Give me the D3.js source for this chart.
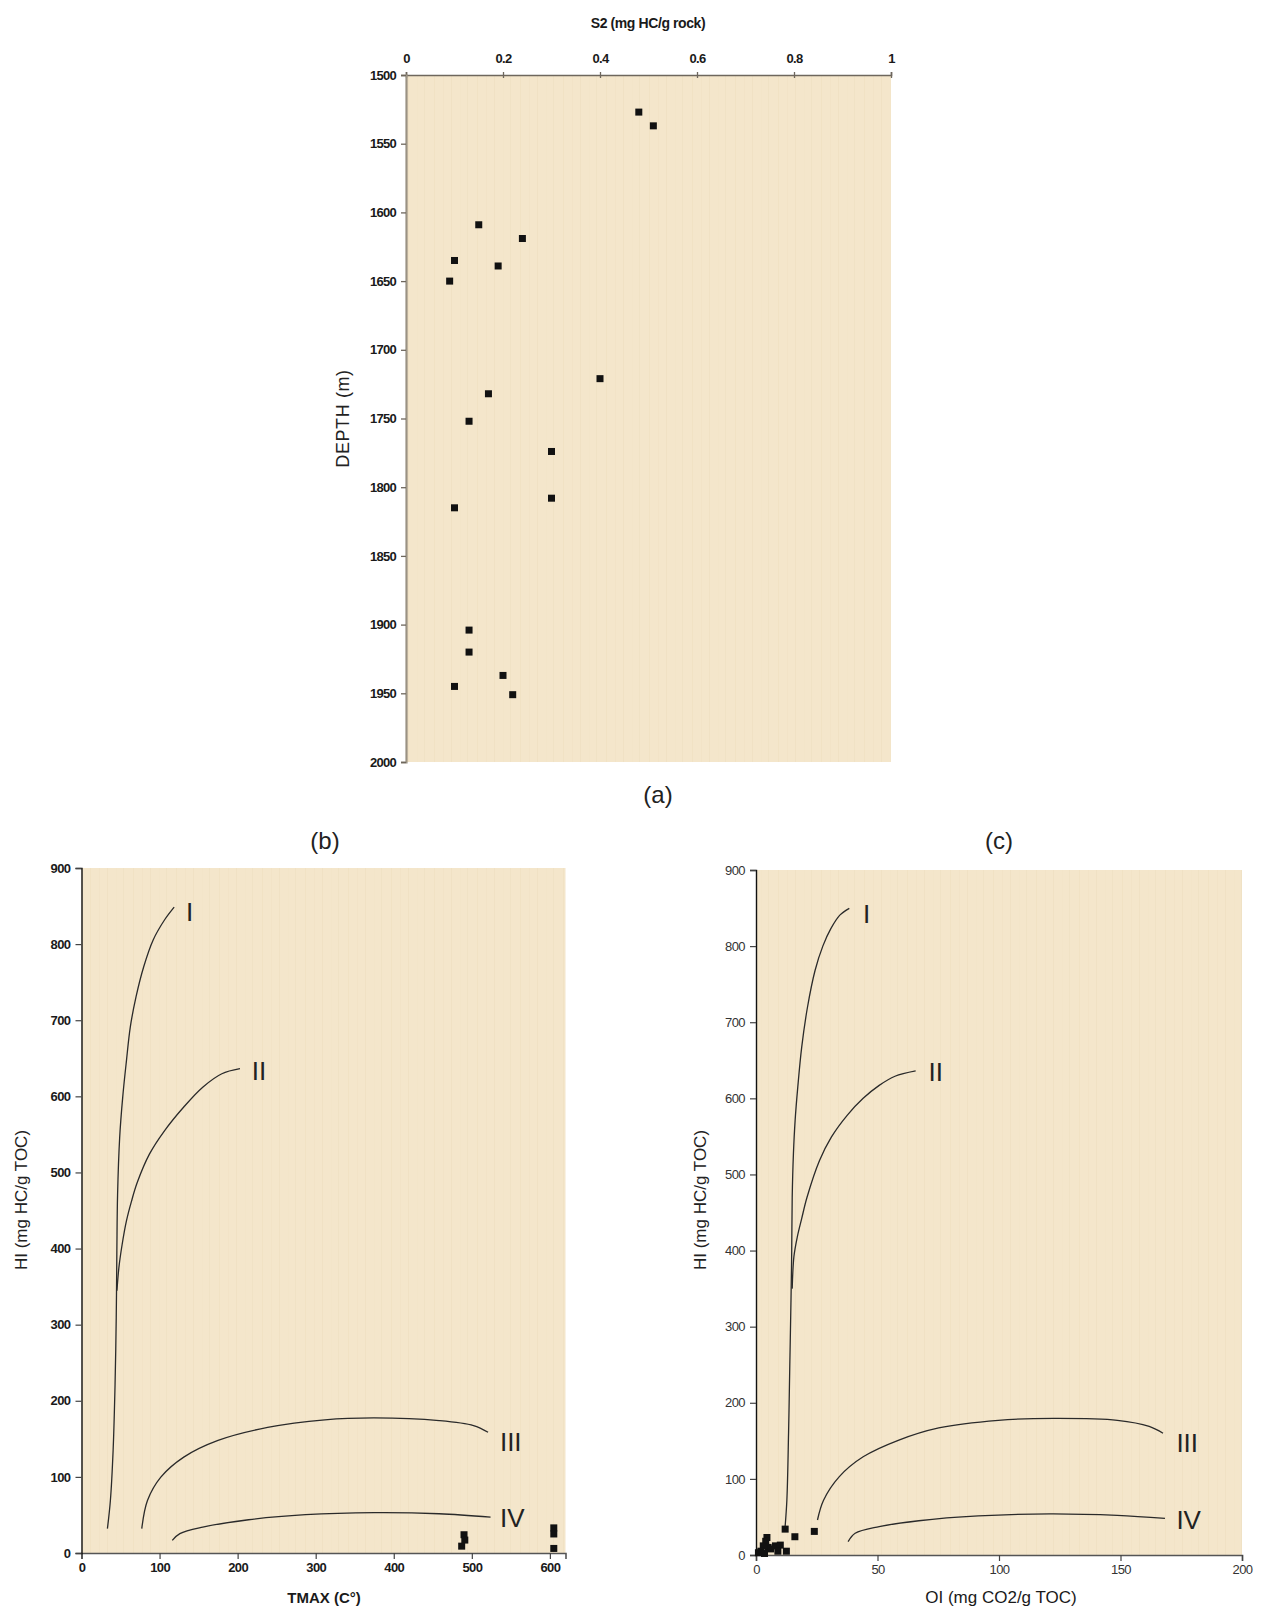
<!DOCTYPE html>
<html>
<head>
<meta charset="utf-8">
<script src="https://cdn.jsdelivr.net/npm/d3@7"></script>
<style>
    body { margin: 0; background: #fff; }
    svg { display: block; }
    text { font-family: "Liberation Sans", Arial, sans-serif; }
</style>
</head>
<body>
<div id="chart"></div>
<script>

// ---- panel (a): S2 vs depth ----
const s2Values    = [0.48, 0.51, 0.15, 0.24, 0.10, 0.19, 0.09, 0.40, 0.17, 0.13, 0.30, 0.30, 0.10, 0.13, 0.13, 0.20, 0.10, 0.22];
const depthValues = [1527, 1537, 1609, 1619, 1635, 1639, 1650, 1721, 1732, 1752, 1774, 1808, 1815, 1904, 1920, 1937, 1945, 1951];
const s2Ticks     = [0, 0.2, 0.4, 0.6, 0.8, 1];
const s2TickLabels = ["0", "0.2", "0.4", "0.6", "0.8", "1"];
const depthTicks  = [1500, 1550, 1600, 1650, 1700, 1750, 1800, 1850, 1900, 1950, 2000];

// ---- panel (b): TMAX vs HI ----
const tmaxValues  = [490, 491, 487, 605, 605, 605];
const hiTmaxValues = [24, 17, 9, 33, 25, 6];
const tmaxTicks   = [0, 100, 200, 300, 400, 500, 600];
const hiTicks     = [0, 100, 200, 300, 400, 500, 600, 700, 800, 900];

// kerogen type curves for (b) as [TMAX, HI]
const tmaxCurveI   = [[33.2,32],[37,69],[40.5,134.7],[43,222],[44.5,309.6],[45.3,397],[46.2,470],[48.9,546],[52.8,599],[57.6,647],[62.5,691],[69.9,731],[79.6,770],[91.8,805.5],[106.5,832],[118.7,848.6]];
const tmaxCurveII  = [[45.4,344.5],[47.9,375],[52,405],[57.5,436],[64,462],[71.5,487],[87,524],[106.5,555],[131,586],[155.3,612],[179.8,629.7],[203,636.3]];
const tmaxCurveIII = [[77.2,32],[84.5,69],[101.6,99.7],[131,126],[174.9,148],[238.4,165],[311.7,175],[375.2,177.5],[458.2,174],[502.2,167.5],[520.8,158.7]];
const tmaxCurveIV  = [[116.3,16.6],[126,25.4],[155.3,34],[214,43.7],[287,50.3],[375,53],[458,51.6],[524,47.2]];
const tmaxCurveLabels = [["I",134,843],["II",218,634],["III",536,146],["IV",536,46]];

// ---- panel (c): OI vs HI ----
const oiValues    = [12, 24, 16, 4.5, 4, 3, 5, 2, 6, 8, 10, 9, 12.5, 1, 3.5];
const hiOiValues  = [34, 31, 24, 23, 18, 12, 10, 5, 8, 12, 13, 5, 5, 3, 2];
const oiTicks     = [0, 50, 100, 150, 200];

const oiCurveI   = [[11.9,34],[12.7,72],[13.4,160],[13.9,248],[14.4,335],[14.7,400],[14.9,470],[15.4,527],[16.1,571],[17.2,615],[18.8,667],[21.2,720],[24.3,768],[27.5,800],[30.8,823],[34.6,841],[38.4,849.6]];
const oiCurveII  = [[14.9,350],[15.6,392],[17,418],[18.8,442],[21,470],[26.1,518],[31,549],[37.6,578],[44.1,600],[50.7,617],[57.2,629],[65.7,636]];
const oiCurveIII = [[25.3,46],[27.8,72],[34.3,103],[44.1,129],[58.8,151],[75.2,167],[99.7,177],[122.5,179.4],[148.7,177],[161.8,169],[167.5,160]];
const oiCurveIV  = [[37.9,17.5],[40.8,28.5],[50.7,37.3],[67,45],[91.5,51.3],[121,54],[148.7,52],[168.3,48]];
const oiCurveLabels = [["I",44,843],["II",71,635],["III",173,147],["IV",173,46]];


let svg = d3.select("#chart").append("svg")
    .attr("width", 1263)
    .attr("height", 1609);

// paper-like background pattern
let defs = svg.append("defs");
let pattern = defs.append("pattern")
    .attr("id", "paper")
    .attr("patternUnits", "userSpaceOnUse")
    .attr("width", 43)
    .attr("height", 60);
pattern.append("rect").attr("width", 43).attr("height", 60).attr("fill", "#f4e6cb");
[[4, 0.35], [13, 0.2], [21, 0.4], [30, 0.15], [37, 0.3]].forEach(s => {
    pattern.append("rect")
        .attr("x", s[0]).attr("width", 1).attr("height", 60)
        .attr("fill", "#ead9b8").attr("opacity", s[1]);
});

function drawSquares(g, xs, ys, x, y) {
    g.selectAll(".pt")
        .data(xs.map((d, i) => [d, ys[i]]))
        .enter().append("rect")
        .attr("class", "pt")
        .attr("x", d => x(d[0]) - 3.5)
        .attr("y", d => y(d[1]) - 3.5)
        .attr("width", 7)
        .attr("height", 7)
        .attr("fill", "#111");
}

function drawCurves(g, curves, labels, x, y) {
    let line = d3.line()
        .x(d => x(d[0]))
        .y(d => y(d[1]))
        .curve(d3.curveCatmullRom.alpha(0.5));
    curves.forEach(c => {
        g.append("path")
            .attr("d", line(c))
            .attr("fill", "none")
            .attr("stroke", "#2a2a2a")
            .attr("stroke-width", 1.3);
    });
    labels.forEach(l => {
        g.append("text")
            .attr("x", x(l[1]))
            .attr("y", y(l[2]))
            .attr("dy", "0.36em")
            .attr("font-size", "26px")
            .attr("fill", "#222")
            .text(l[0]);
    });
}

/* ----- panel (a) ----- */
let ax = d3.scaleLinear().domain([0, 1]).range([406, 891]);
let ay = d3.scaleLinear().domain([1500, 2000]).range([75, 762]);

svg.append("rect")
    .attr("x", ax(0)).attr("y", ay(1500))
    .attr("width", ax(1) - ax(0)).attr("height", ay(2000) - ay(1500))
    .attr("fill", "url(#paper)");

let aTop = svg.append("g")
    .attr("transform", `translate(0, ${ay(1500)})`)
    .call(d3.axisTop(ax).tickValues(s2Ticks).tickFormat((d, i) => s2TickLabels[i]).tickSizeOuter(0).tickSize(3).tickPadding(9));
aTop.selectAll(".tick line").attr("y1", 3).attr("y2", -3);

let aLeft = svg.append("g")
    .attr("transform", `translate(${ax(0)}, 0)`)
    .call(d3.axisLeft(ay).tickValues(depthTicks).tickFormat(d3.format("d")).tickSizeOuter(0).tickSize(5).tickPadding(5));

[aTop, aLeft].forEach(g => {
    g.select(".domain").attr("stroke", "#6e675d").attr("stroke-width", 1.6);
    g.selectAll(".tick line").attr("stroke", "#6e675d").attr("stroke-width", 1.3);
    g.selectAll(".tick text").attr("font-size", "13px").attr("font-weight", "bold").attr("fill", "#1a1a1a").attr("letter-spacing", "-0.7px");
});
aLeft.select(".domain").attr("stroke", "#9a9283").attr("stroke-width", 2.2);

svg.append("text")
    .attr("x", 648).attr("y", 28)
    .attr("text-anchor", "middle")
    .attr("font-size", "14px").attr("font-weight", "bold").attr("fill", "#1a1a1a")
    .attr("letter-spacing", "-0.4px")
    .text("S2 (mg HC/g rock)");

svg.append("text")
    .attr("transform", `translate(349, ${(ay(1500) + ay(2000)) / 2}) rotate(-90)`)
    .attr("text-anchor", "middle")
    .attr("font-size", "18px").attr("fill", "#222")
    .attr("letter-spacing", "0.6px")
    .text("DEPTH (m)");

drawSquares(svg.append("g"), s2Values, depthValues, ax, ay);

svg.append("text")
    .attr("x", 658).attr("y", 803)
    .attr("text-anchor", "middle")
    .attr("font-size", "24px").attr("fill", "#222")
    .text("(a)");

/* ----- panels (b) and (c) ----- */
function hiPanel(cfg) {
    let x = d3.scaleLinear().domain(cfg.xDomain).range(cfg.xRange);
    let y = d3.scaleLinear().domain([0, 900]).range([cfg.bottom, cfg.top]);

    svg.append("rect")
        .attr("x", x.range()[0]).attr("y", y(900))
        .attr("width", x.range()[1] - x.range()[0]).attr("height", y(0) - y(900))
        .attr("fill", "url(#paper)");

    let gx = svg.append("g")
        .attr("transform", `translate(0, ${y(0)})`)
        .call(d3.axisBottom(x).tickValues(cfg.xTicks).tickSizeOuter(0).tickSize(6).tickPadding(4));
    let gy = svg.append("g")
        .attr("transform", `translate(${x.range()[0]}, 0)`)
        .call(d3.axisLeft(y).tickValues(hiTicks).tickSizeOuter(0).tickSize(6).tickPadding(5));

    gx.select(".domain").attr("stroke", "#555").attr("stroke-width", 1.6);
    gy.select(".domain").attr("stroke", "#111").attr("stroke-width", 1.4);
    [gx, gy].forEach(g => {
        g.selectAll(".tick line").attr("stroke", "#444").attr("stroke-width", 1.2);
        g.selectAll(".tick text")
            .attr("font-size", "13px")
            .attr("font-weight", cfg.boldTicks ? "bold" : "normal")
            .attr("fill", cfg.boldTicks ? "#1a1a1a" : "#333")
            .attr("letter-spacing", "-0.6px");
    });

    let plot = svg.append("g");
    drawCurves(plot, cfg.curves, cfg.labels, x, y);
    drawSquares(plot, cfg.xs, cfg.ys, x, y);

    svg.append("text")
        .attr("x", cfg.panelX).attr("y", 849)
        .attr("text-anchor", "middle")
        .attr("font-size", "24px").attr("fill", "#222")
        .text(cfg.panel);

    svg.append("text")
        .attr("transform", `translate(${cfg.yTitleX}, 1200) rotate(-90)`)
        .attr("text-anchor", "middle")
        .attr("font-size", "17px").attr("fill", "#222")
        .text("HI (mg HC/g TOC)");

    svg.append("text")
        .attr("x", cfg.xTitleX).attr("y", 1603)
        .attr("text-anchor", "middle")
        .attr("font-size", cfg.boldTicks ? "15px" : "17px")
        .attr("font-weight", cfg.boldTicks ? "bold" : "normal")
        .attr("fill", "#1a1a1a")
        .text(cfg.xTitle);
}

hiPanel({
    panel: "(b)", panelX: 325,
    xDomain: [0, 620], xRange: [81.5, 565.5], xTicks: tmaxTicks,
    top: 868, bottom: 1553,
    xs: tmaxValues, ys: hiTmaxValues,
    curves: [tmaxCurveI, tmaxCurveII, tmaxCurveIII, tmaxCurveIV],
    labels: tmaxCurveLabels,
    boldTicks: true,
    yTitleX: 27, xTitleX: 324, xTitle: "TMAX (C°)"
});

hiPanel({
    panel: "(c)", panelX: 999,
    xDomain: [0, 200], xRange: [756, 1242], xTicks: oiTicks,
    top: 870, bottom: 1555,
    xs: oiValues, ys: hiOiValues,
    curves: [oiCurveI, oiCurveII, oiCurveIII, oiCurveIV],
    labels: oiCurveLabels,
    boldTicks: false,
    yTitleX: 706, xTitleX: 1001, xTitle: "OI (mg CO2/g TOC)"
});

</script>
</body>
</html>
